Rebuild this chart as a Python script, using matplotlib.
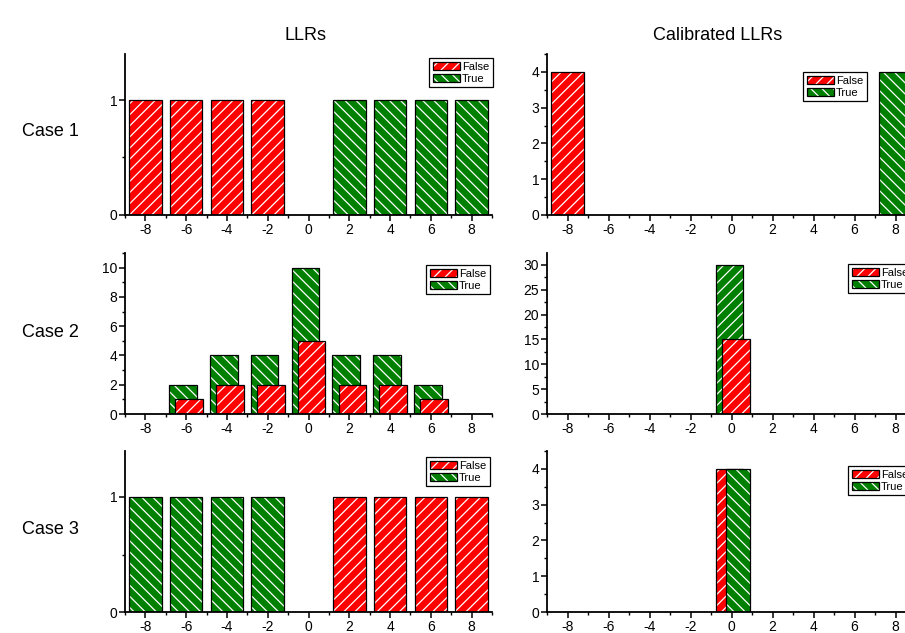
import matplotlib
matplotlib.use("Agg")
import matplotlib.pyplot as plt
from matplotlib.patches import Patch
from matplotlib.ticker import MultipleLocator
from matplotlib.legend_handler import HandlerTuple

plt.rcParams['font.family'] = ['Liberation Sans', 'DejaVu Sans']
plt.rcParams['hatch.linewidth'] = 0.9

# ---------------- data ----------------
bins = [-8, -6, -4, -2, 0, 2, 4, 6, 8]
tick_labels = ['-8', '-6', '-4', '-2', '0', '2', '4', '6', '8']

case1_llr_false = [1, 1, 1, 1, 0, 0, 0, 0, 0]
case1_llr_true = [0, 0, 0, 0, 0, 1, 1, 1, 1]
case1_cal_false = [4, 0, 0, 0, 0, 0, 0, 0, 0]
case1_cal_true = [0, 0, 0, 0, 0, 0, 0, 0, 4]

case2_llr_false = [0, 1, 2, 2, 5, 2, 2, 1, 0]
case2_llr_true = [0, 2, 4, 4, 10, 4, 4, 2, 0]
case2_cal_false = [0, 0, 0, 0, 15, 0, 0, 0, 0]
case2_cal_true = [0, 0, 0, 0, 30, 0, 0, 0, 0]

case3_llr_false = [0, 0, 0, 0, 0, 1, 1, 1, 1]
case3_llr_true = [1, 1, 1, 1, 0, 0, 0, 0, 0]
case3_cal_false = [0, 0, 0, 0, 4, 0, 0, 0, 0]
case3_cal_true = [0, 0, 0, 0, 4, 0, 0, 0, 0]

col_titles = ['LLRs', 'Calibrated LLRs']
row_labels = ['Case 1', 'Case 2', 'Case 3']
legend_labels = ['False', 'True']

RED = '#ff0000'
GREEN = '#008000'
HATCH_F = '///'
HATCH_B = '\\\\\\'

W, H = 905, 633
fig = plt.figure(figsize=(W / 100, H / 100), dpi=100)


def add_ax(left, bottom_px, right, top_px):
    return fig.add_axes([left / W, 1 - bottom_px / H, (right - left) / W,
                         (bottom_px - top_px) / H])


def draw_bars(ax, values, offset, width, color, hatch):
    xs = [b + offset for b, v in zip(bins, values) if v != 0]
    vs = [v for v in values if v != 0]
    ax.bar(xs, vs, width=width, color=color, edgecolor='white', linewidth=0,
           hatch=hatch, zorder=2)
    ax.bar(xs, vs, width=width, fill=False, edgecolor='black', linewidth=0.9,
           zorder=2)


def style(ax, ymax, major, minor):
    ax.set_xlim(-9, 9)
    ax.set_ylim(0, ymax)
    ax.set_xticks(bins)
    ax.set_xticklabels(tick_labels)
    ax.xaxis.set_minor_locator(MultipleLocator(1))
    ax.yaxis.set_major_locator(MultipleLocator(major))
    ax.yaxis.set_minor_locator(MultipleLocator(minor))
    for s in ['top', 'right']:
        ax.spines[s].set_visible(False)
    for s in ['left', 'bottom']:
        ax.spines[s].set_linewidth(1.3)
        ax.spines[s].set_zorder(5)
    ax.tick_params(which='major', direction='out', length=4, width=1.1,
                   labelsize=10, pad=1.5)
    ax.tick_params(which='minor', direction='out', length=2, width=1.0)


def legend(ax, anchor_x, anchor_y, loc, true_hatch=HATCH_B):
    hf = (Patch(facecolor=RED, edgecolor='white', linewidth=0, hatch=HATCH_F),
          Patch(fill=False, edgecolor='black', linewidth=0.9))
    ht = (Patch(facecolor=GREEN, edgecolor='white', linewidth=0, hatch=true_hatch),
          Patch(fill=False, edgecolor='black', linewidth=0.9))
    leg = ax.legend([hf, ht], legend_labels, loc=loc,
                    bbox_to_anchor=(anchor_x / W, 1 - anchor_y / H),
                    bbox_transform=fig.transFigure, borderaxespad=0,
                    fontsize=8, handlelength=2.4, handleheight=0.7,
                    handletextpad=0.2, labelspacing=0.15, borderpad=0.35,
                    fancybox=False, framealpha=1, edgecolor='black',
                    handler_map={tuple: HandlerTuple(ndivide=1)})
    leg.get_frame().set_linewidth(0.9)
    leg.set_zorder(10)


LX0, LX1 = 125, 492
RX0, RX1 = 547, 916
rows = [(215, 54), (414, 253), (612, 451)]

# Case 1
ax = add_ax(LX0, rows[0][0], LX1, rows[0][1])
draw_bars(ax, case1_llr_false, 0, 1.6, RED, HATCH_F)
draw_bars(ax, case1_llr_true, 0, 1.6, GREEN, HATCH_B)
style(ax, 1.4, 1, 0.5)
legend(ax, 493, 58, 'upper right')

ax = add_ax(RX0, rows[0][0], RX1, rows[0][1])
draw_bars(ax, case1_cal_false, 0, 1.6, RED, HATCH_F)
draw_bars(ax, case1_cal_true, 0, 1.6, GREEN, HATCH_B)
style(ax, 4.5, 1, 0.5)
legend(ax, 803, 72, 'upper left')

# Case 2
ax = add_ax(LX0, rows[1][0], LX1, rows[1][1])
draw_bars(ax, case2_llr_true, -0.15, 1.35, GREEN, HATCH_B)
draw_bars(ax, case2_llr_false, 0.15, 1.35, RED, HATCH_F)
style(ax, 11, 2, 1)
legend(ax, 490, 265, 'upper right')

ax = add_ax(RX0, rows[1][0], RX1, rows[1][1])
draw_bars(ax, case2_cal_true, -0.1, 1.36, GREEN, HATCH_F)
draw_bars(ax, case2_cal_false, 0.2, 1.36, RED, HATCH_F)
style(ax, 32.4, 5, 2.5)
legend(ax, 848, 264, 'upper left')

# Case 3
ax = add_ax(LX0, rows[2][0], LX1, rows[2][1])
draw_bars(ax, case3_llr_true, 0, 1.6, GREEN, HATCH_B)
draw_bars(ax, case3_llr_false, 0, 1.6, RED, HATCH_F)
style(ax, 1.4, 1, 0.5)
legend(ax, 490, 457, 'upper right')

ax = add_ax(RX0, rows[2][0], RX1, rows[2][1])
draw_bars(ax, case3_cal_false, -0.1, 1.35, RED, HATCH_F)
draw_bars(ax, case3_cal_true, 0.3, 1.16, GREEN, HATCH_B)
style(ax, 4.5, 1, 0.5)
legend(ax, 848, 466, 'upper left')

# Titles and row labels
fig.text(305 / W, 1 - 35 / H, col_titles[0], ha='center', va='center', fontsize=13)
fig.text(718 / W, 1 - 35 / H, col_titles[1], ha='center', va='center', fontsize=13)
for lab, yc in zip(row_labels, [131, 332, 530]):
    fig.text(50 / W, 1 - yc / H, lab, ha='center', va='center', fontsize=13)

fig.savefig('out.png', dpi=100)
